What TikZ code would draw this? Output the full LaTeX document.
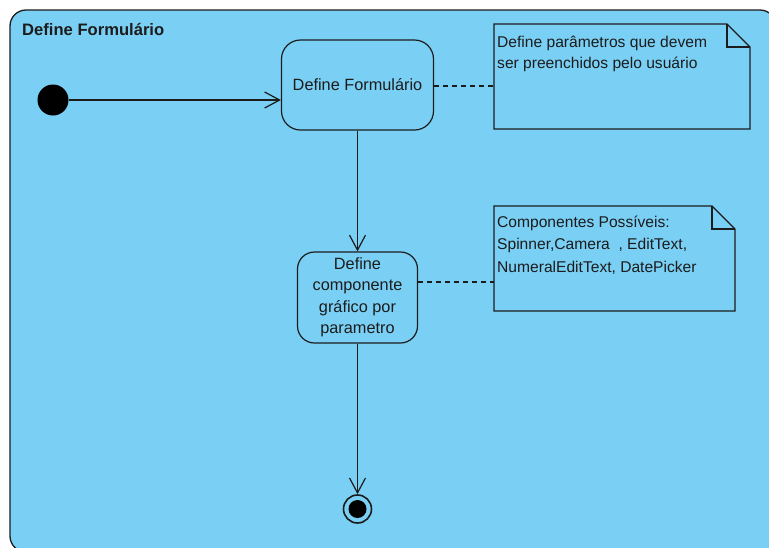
\documentclass[tikz,border=0pt]{standalone}
\usepackage{fontspec}
\setmainfont{Liberation Sans}
\usetikzlibrary{arrows.meta,calc}
\definecolor{actbg}{RGB}{122,207,244}
\definecolor{ink}{RGB}{28,28,28}
\begin{document}
\begin{tikzpicture}[x=1pt,y=-1pt,
  every node/.style={text=ink},
  frame/.style={draw=ink, line width=1.3pt, fill=actbg, rounded corners=16pt},
  action/.style={draw=ink, line width=1.2pt, rounded corners=19pt, align=center, inner sep=0pt,
    font=\fontsize{16.3}{21.5}\selectfont},
  notepaper/.style={draw=ink, line width=1.2pt, fill=actbg},
  notetext/.style={anchor=base west, align=left, inner sep=0pt},
  flow/.style={draw=ink, line width=1.2pt, -{Straight Barb[length=15pt, width=16pt, line width=1.2pt]}},
  anchorline/.style={draw=ink, line width=1.2pt, dash pattern=on 5pt off 4pt}
]
\useasboundingbox (0,0) rectangle (769,547);
\fill[white] (0,0) rectangle (769,547);
\begin{scope}
\clip (0,0) rectangle (769,547);
\path[frame] (10,10) rectangle (776,552);
\end{scope}

% activity title
\node[anchor=base west, inner sep=0pt, font=\fontsize{16.6}{18}\bfseries\selectfont] (title) at (22,35) {Define Formulário};

% initial node
\node[circle, fill=black, minimum size=31pt, inner sep=0pt] (start) at (53,100) {};

% actions
\node[action, minimum width=152pt, minimum height=90pt] (formulario) at (357.5,85) {Define Formulário};
\node[action, minimum width=120pt, minimum height=91pt, rounded corners=17pt] (componente) at (357.5,297.5)
  {Define\\componente\\gráfico por\\parametro};

% final node
\node[circle, draw=ink, line width=1.6pt, minimum size=28pt, inner sep=0pt] (fim) at (357.5,509) {};
\node[circle, fill=black, minimum size=18pt, inner sep=0pt] (fimdot) at (fim.center) {};

% note: parameters (text anchored at the baseline of its last line)
\coordinate (n1nw) at (494,24);
\coordinate (n1se) at (750,129);
\draw[notepaper]
  (n1nw) -- ($(n1se|-n1nw)+(-23,0)$) -- ($(n1se|-n1nw)+(0,23)$) -- (n1se) -- (n1nw|-n1se) -- cycle;
\draw[draw=ink, line width=1.2pt] ($(n1se|-n1nw)+(-23,0)$) |- ($(n1se|-n1nw)+(0,23)$);
\node[notetext, font=\fontsize{15.6}{21}\selectfont] (nota1) at (497,68)
  {Define parâmetros que devem\\ser preenchidos pelo usuário};
\coordinate (nota1port) at (494,86);

% note: components
\coordinate (n2nw) at (494,206);
\coordinate (n2se) at (735,311);
\draw[notepaper]
  (n2nw) -- ($(n2se|-n2nw)+(-23,0)$) -- ($(n2se|-n2nw)+(0,23)$) -- (n2se) -- (n2nw|-n2se) -- cycle;
\draw[draw=ink, line width=1.2pt] ($(n2se|-n2nw)+(-23,0)$) |- ($(n2se|-n2nw)+(0,23)$);
\node[notetext, font=\fontsize{15.6}{22.5}\selectfont] (nota2) at (497,272)
  {Componentes Possíveis:\\Spinner,Camera\ \ , EditText,\\NumeralEditText, DatePicker};
\coordinate (nota2port) at (494,282);

% control flows
\draw[flow] (start) -- (start-|formulario.west);
\draw[flow] (formulario.south) -- (componente.north);
\draw[flow] (componente.south) -- (fim.north);

% note anchors
\draw[anchorline] (formulario.east|-nota1port) -- (nota1port);
\draw[anchorline] (componente.east|-nota2port) -- (nota2port);
\end{tikzpicture}
\end{document}
